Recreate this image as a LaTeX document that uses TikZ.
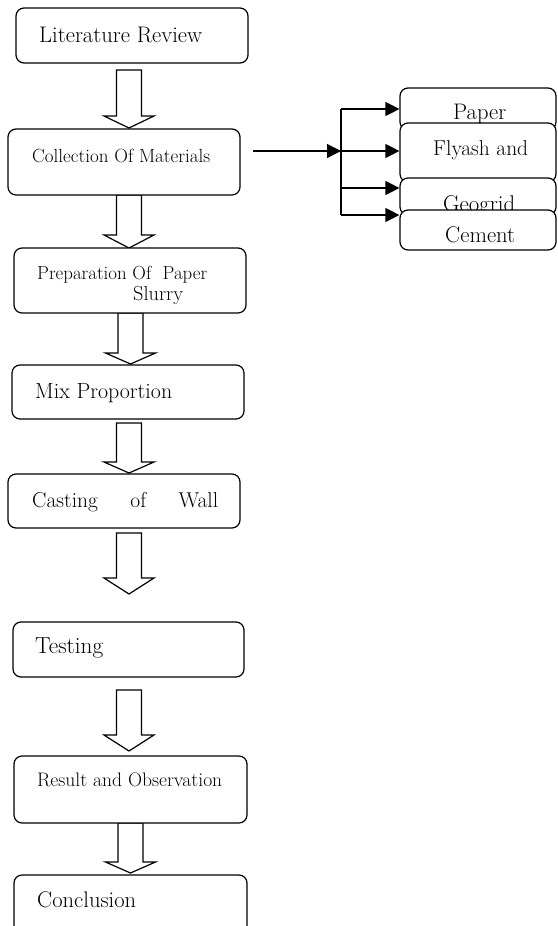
\documentclass[tikz,border=0pt]{standalone}
\usepackage{fontspec}
\usepackage{graphicx}
\usetikzlibrary{arrows.meta}
\newcommand\bigtxt{\fontsize{20}{24}\selectfont}
\newcommand\fitw[2]{\resizebox{#1pt}{!}{\bigtxt #2}}
\newcommand\blockarr[4]{%
  \draw[barrow] ({#1-12.5},#2) -- ({#1+12.5},#2) -- ({#1+12.5},#3) -- ({#1+25},#3)
    -- (#1,#4) -- ({#1-25},#3) -- ({#1-12.5},#3) -- cycle;}
\begin{document}
\begin{tikzpicture}[x=1pt,y=-1pt,
  box/.style={draw, line width=1.2pt, rounded corners=8pt, inner sep=0pt, fill=white},
  lbl/.style={anchor=base west, inner sep=0pt},
  barrow/.style={draw, line width=1.2pt, fill=white, line join=miter},
  conn/.style={line width=1.3pt, -{Triangle[length=14pt,width=14pt]}},
  plain/.style={line width=1.3pt}]
\useasboundingbox (0,0) rectangle (557,926);
\clip (0,0) rectangle (557,926);

% block arrows
\blockarr{129}{70}{116}{128}
\blockarr{129}{195}{235}{248}
\blockarr{130.5}{313}{353}{364}
\blockarr{129}{423}{462}{473}
\blockarr{129}{533}{578}{594}
\blockarr{129}{690}{735}{751}
\blockarr{130.5}{823}{862}{873}

% main boxes
\node[box, minimum width=232pt, minimum height=55pt] (lit) at (132,35.5) {};
\node[lbl] (litT) at (39,42) {\fitw{163}{Literature Review}};

\node[box, minimum width=232pt, minimum height=66pt] (coll) at (124,162) {};
\node[lbl] (collT) at (32,162) {\fitw{178}{Collection Of Materials}};

\node[box, minimum width=232pt, minimum height=65pt] (prep) at (130,280.5) {};
\node[lbl] (prepT) at (37,279) {\fitw{170}{Preparation Of\ \ Paper}};
\node[lbl] (prepS) at (133,300) {\fitw{50}{Slurry}};

\node[box, minimum width=232pt, minimum height=54pt] (mix) at (128,392) {};
\node[lbl] (mixT) at (35,398) {\fitw{137}{Mix Proportion}};

\node[box, minimum width=232pt, minimum height=54pt] (cast) at (124,501) {};
\node[lbl] (castT) at (32,507) {\fontsize{21.5}{25}\selectfont\hbox to 186pt{Casting\hfill of\hfill Wall}};

\node[box, minimum width=231pt, minimum height=55pt] (test) at (128.5,649.5) {};
\node[lbl] (testT) at (35,653) {\fitw{68}{Testing}};

\node[box, minimum width=233pt, minimum height=67pt] (res) at (130.5,789.5) {};
\node[lbl] (resT) at (37,786) {\fitw{185}{Result and Observation}};

\node[box, minimum width=233pt, minimum height=62pt] (conc) at (130.5,906) {};
\node[lbl] (concT) at (37,907) {\fitw{99}{Conclusion}};

% material boxes
\node[box, minimum width=156pt, minimum height=42pt] (paper) at (478,109) {};
\node[lbl] (paperT) at (453,119) {\fitw{53}{Paper}};
\node[box, minimum width=156pt, minimum height=59pt] (fly) at (478,152.5) {};
\node[lbl] (flyT) at (433,155) {\fitw{95}{Flyash and}};
\node[box, minimum width=156pt, minimum height=37pt] (geo) at (478,196.5) {};
\node[lbl] (geoT) at (443,211) {\fitw{72}{Geogrid}};
\node[box, minimum width=156pt, minimum height=40pt] (cem) at (478,230) {};
\node[lbl] (cemT) at (445,242) {\fitw{70}{Cement}};

% connectors
\coordinate (s) at (253,151);
\coordinate (j) at (341,151);
\coordinate (jt) at (341,109);
\coordinate (jg) at (341,188);
\coordinate (jb) at (341,215);
\draw[conn] (s) -- (j);
\draw[plain] (jt) -- (jb);
\draw[conn] (jt) -- (jt -| paper.west);
\draw[conn] (j) -- (j -| fly.west);
\draw[conn] (jg) -- (jg -| geo.west);
\draw[conn] (jb) -- (jb -| cem.west);
\end{tikzpicture}
\end{document}
